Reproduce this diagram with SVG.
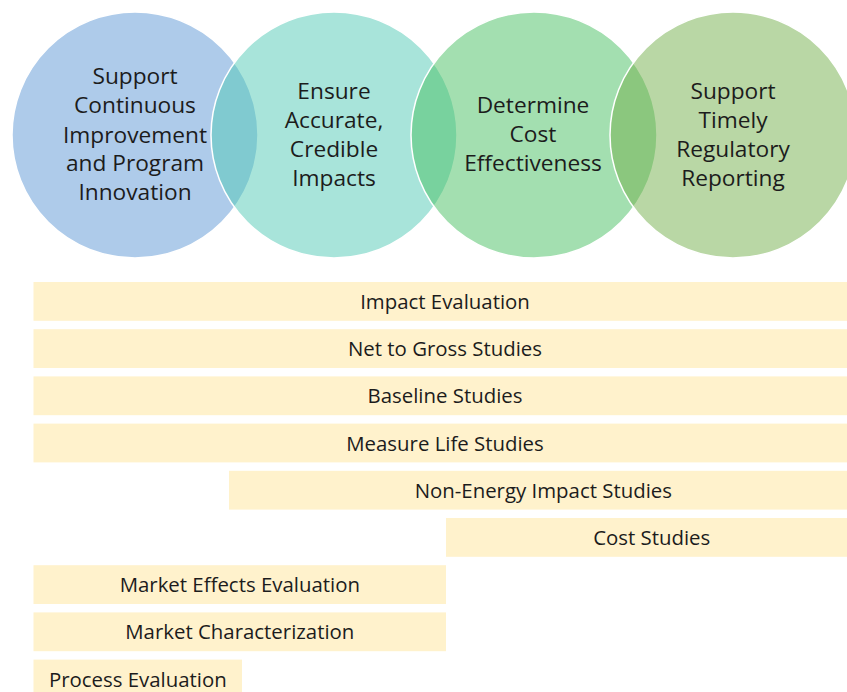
<svg xmlns="http://www.w3.org/2000/svg" width="847" height="692" viewBox="0 0 847 692">
  <style>
    .venn { fill-opacity: 0.5; stroke: #ffffff; stroke-width: 1.5; }
    .vt { font-family: "Open Sans", "Liberation Sans", sans-serif; font-size: 22.7px; fill: #1c1c1c; text-anchor: middle; }
    .bar { fill: #fff2cc; }
    .bt { font-family: "Open Sans", "Liberation Sans", sans-serif; font-size: 20.4px; fill: #1c1c1c; text-anchor: middle; }
  </style>
  <rect width="847" height="692" fill="#ffffff"/>

  <!-- Objectives: overlapping Venn circles -->
  <g id="goal-improvement">
    <circle class="venn" cx="135" cy="135" r="123" fill="#5d97d5"/>
  </g>
  <g id="goal-impacts">
    <circle class="venn" cx="334" cy="135" r="123" fill="#51c9b5"/>
  </g>
  <g id="goal-cost">
    <circle class="venn" cx="534" cy="135" r="123" fill="#47bf61"/>
  </g>
  <g id="goal-reporting">
    <circle class="venn" cx="733" cy="135" r="123" fill="#73af4b"/>
  </g>

  <!-- Circle labels -->
  <g id="labels-circles">
    <text class="vt" x="135" y="84">Support</text>
    <text class="vt" x="135" y="113">Continuous</text>
    <text class="vt" x="135" y="142.5">Improvement</text>
    <text class="vt" x="135" y="171">and Program</text>
    <text class="vt" x="135" y="200">Innovation</text>

    <text class="vt" x="334" y="99">Ensure</text>
    <text class="vt" x="334" y="128">Accurate,</text>
    <text class="vt" x="334" y="157">Credible</text>
    <text class="vt" x="334" y="185.5">Impacts</text>

    <text class="vt" x="533" y="113">Determine</text>
    <text class="vt" x="533" y="142">Cost</text>
    <text class="vt" x="533" y="171">Effectiveness</text>

    <text class="vt" x="733" y="99">Support</text>
    <text class="vt" x="733" y="128">Timely</text>
    <text class="vt" x="733" y="157">Regulatory</text>
    <text class="vt" x="733" y="185.5">Reporting</text>
  </g>

  <!-- Study types: horizontal bars -->
  <g id="impact-evaluation">
    <rect class="bar" x="33.5" y="282" width="824" height="38.8"/>
    <text class="bt" x="445" y="309">Impact Evaluation</text>
  </g>
  <g id="net-to-gross">
    <rect class="bar" x="33.5" y="329.2" width="824" height="38.8"/>
    <text class="bt" x="445" y="356.2">Net to Gross Studies</text>
  </g>
  <g id="baseline">
    <rect class="bar" x="33.5" y="376.4" width="824" height="38.8"/>
    <text class="bt" x="445" y="403.4">Baseline Studies</text>
  </g>
  <g id="measure-life">
    <rect class="bar" x="33.5" y="423.6" width="824" height="38.8"/>
    <text class="bt" x="445" y="450.6">Measure Life Studies</text>
  </g>
  <g id="non-energy">
    <rect class="bar" x="229" y="470.8" width="628.5" height="38.8"/>
    <text class="bt" x="543.3" y="497.8">Non-Energy Impact Studies</text>
  </g>
  <g id="cost-studies">
    <rect class="bar" x="446" y="518" width="411.5" height="38.8"/>
    <text class="bt" x="651.7" y="545">Cost Studies</text>
  </g>
  <g id="market-effects">
    <rect class="bar" x="33.5" y="565.2" width="412.5" height="38.8"/>
    <text class="bt" x="239.8" y="592.2">Market Effects Evaluation</text>
  </g>
  <g id="market-characterization">
    <rect class="bar" x="33.5" y="612.4" width="412.5" height="38.8"/>
    <text class="bt" x="239.8" y="639.4">Market Characterization</text>
  </g>
  <g id="process-evaluation">
    <rect class="bar" x="33.5" y="659.6" width="208.5" height="38.8"/>
    <text class="bt" x="137.8" y="686.6">Process Evaluation</text>
  </g>
</svg>
